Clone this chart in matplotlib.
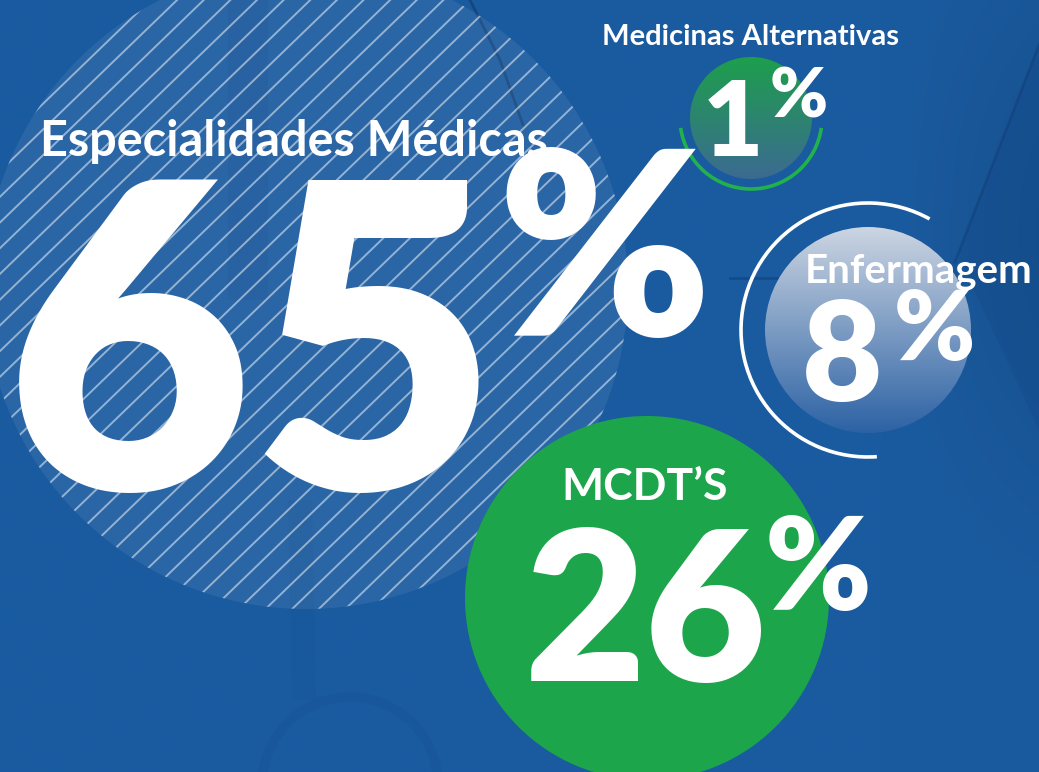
import numpy as np
import matplotlib
matplotlib.use("Agg")
import matplotlib.pyplot as plt
import matplotlib.colors as mcolors
from matplotlib.patches import Circle, Arc, Polygon
from matplotlib.collections import LineCollection

# ---- data ----
categories = ["Especialidades Médicas", "MCDT’S", "Enfermagem", "Medicinas Alternativas"]
values = [65, 26, 8, 1]

W, H = 1039, 772
fig = plt.figure(figsize=(W / 100, H / 100), dpi=100)
ax = fig.add_axes([0, 0, 1, 1])
ax.axis("off")

FONT = "Lato"

# ---- background ----
ny, nx = 200, 260
yy, xx = np.mgrid[0:1:ny * 1j, 0:1:nx * 1j]
base = np.array([26, 91, 160]) / 255.0
shade = 1.0 - 0.10 * np.clip((xx - 0.85) / 0.15, 0, 1) * np.exp(-((yy - 0.3) / 0.35) ** 2)
bg = base[None, None, :] * shade[..., None]
ax.imshow(bg, extent=[0, W, H, 0], aspect="auto", zorder=0, interpolation="bilinear")

# faint background photo hints
ax.add_patch(Polygon([(1039, 45), (958, 255), (1039, 430)], closed=True,
                     facecolor="#0d3d7a", alpha=0.18, edgecolor="none", zorder=0.5))
ax.plot([1039, 955], [45, 262], color="#0d3568", alpha=0.35, lw=2, zorder=0.6)
ax.plot([470, 500, 523], [0, 60, 125], color="#0d2f5c", alpha=0.45, lw=2, zorder=0.6)
ax.add_patch(Polygon([(228, 0), (268, 0), (268, 300), (228, 300)], closed=True,
                     facecolor="#0d3d7a", alpha=0.12, edgecolor="none", zorder=0.5))
ax.add_patch(Circle((350, 785), 88, facecolor="none", edgecolor="#0f4585",
                    lw=7, alpha=0.15, zorder=0.5))
ax.add_patch(Polygon([(288, 500), (312, 500), (316, 700), (292, 700)], closed=True,
                     facecolor="#0f4585", alpha=0.12, edgecolor="none", zorder=0.5))
ax.plot([730, 790], [278, 278], color="#0d3568", alpha=0.4, lw=2, zorder=0.6)

# ---- big hatched circle (Especialidades Médicas) ----
c65 = (306, 287, 322)
big = Circle(c65[:2], c65[2], facecolor="white", alpha=0.07, edgecolor="none", zorder=1)
ax.add_patch(big)
clip_big = Circle(c65[:2], c65[2], transform=ax.transData)
ang = np.deg2rad(44)
dvec = np.array([np.cos(ang), -np.sin(ang)])
nvec = np.array([np.sin(ang), np.cos(ang)])
segs = []
for k in np.arange(-20, 21):
    p0 = np.array(c65[:2]) + nvec * k * 18.5
    segs.append([p0 - dvec * 400, p0 + dvec * 400])
lc = LineCollection(segs, colors="white", linewidths=1.4, alpha=0.5, zorder=1.2)
ax.add_collection(lc)
lc.set_clip_path(clip_big)


def grad_circle(cx, cy, r, top, bottom, z, alpha=1.0):
    t = np.linspace(0, 1, 256)[:, None]
    ct = np.array(mcolors.to_rgba(top))
    cb = np.array(mcolors.to_rgba(bottom))
    img = (ct * (1 - t) + cb * t)[:, None, :]
    im = ax.imshow(img, extent=[cx - r, cx + r, cy + r, cy - r], aspect="auto",
                   zorder=z, interpolation="bilinear", alpha=alpha)
    cp = Circle((cx, cy), r, transform=ax.transData)
    im.set_clip_path(cp)


# ---- 1% circle ----
grad_circle(751, 118, 61, "#1d9f4c", "#3c6a92", z=2)
ax.add_patch(Arc((751, 118), 142, 142, theta1=8, theta2=172, color="#22b24b", lw=2.6, zorder=2.5))

# ---- 8% circle ----
grad_circle(868, 330, 103, "#ccd5e2", "#2c62a4", z=2)
ax.add_patch(Arc((868, 330), 254, 254, theta1=86, theta2=299, color="white", lw=2.6, zorder=2.5))

# ---- 26% circle ----
ax.add_patch(Circle((647, 598), 182, facecolor="#1da54b", edgecolor="none", zorder=2))

# ---- texts ----
txt = dict(color="white", family=FONT, zorder=5)

# Especialidades Médicas 65%
ax.text(40, 156, categories[0], fontsize=35, fontweight="bold", ha="left", va="baseline", **txt)
ax.text(6, 490, f"{values[0]}", fontsize=306, fontweight="heavy", ha="left", va="baseline", **txt)
ax.text(497, 336, "%", fontsize=184, fontweight="heavy", ha="left", va="baseline", **txt)

# Medicinas Alternativas 1%
ax.text(751, 45, categories[3], fontsize=21, fontweight="bold", ha="center", va="baseline", **txt)
ax.text(703, 156, f"{values[3]}", fontsize=75, fontweight="heavy", ha="left", va="baseline", **txt)
ax.text(770, 118, "%", fontsize=50, fontweight="heavy", ha="left", va="baseline", **txt)

# Enfermagem 8%
ax.text(1032, 283, categories[2], fontsize=29, fontweight="bold", ha="right", va="baseline", **txt)
ax.text(802, 401, f"{values[2]}", fontsize=100, fontweight="heavy", ha="left", va="baseline", **txt)
ax.text(894, 360, "%", fontsize=70, fontweight="heavy", ha="left", va="baseline", **txt)

# MCDT'S 26%
ax.text(645, 500, categories[1], fontsize=32, fontweight="bold", ha="center", va="baseline", **txt)
ax.text(525, 681, f"{values[1]}", fontsize=150, fontweight="heavy", ha="left", va="baseline", **txt)
ax.text(765, 610, "%", fontsize=92, fontweight="heavy", ha="left", va="baseline", **txt)

ax.set_xlim(0, W)
ax.set_ylim(H, 0)
fig.savefig("out.png", dpi=100)
